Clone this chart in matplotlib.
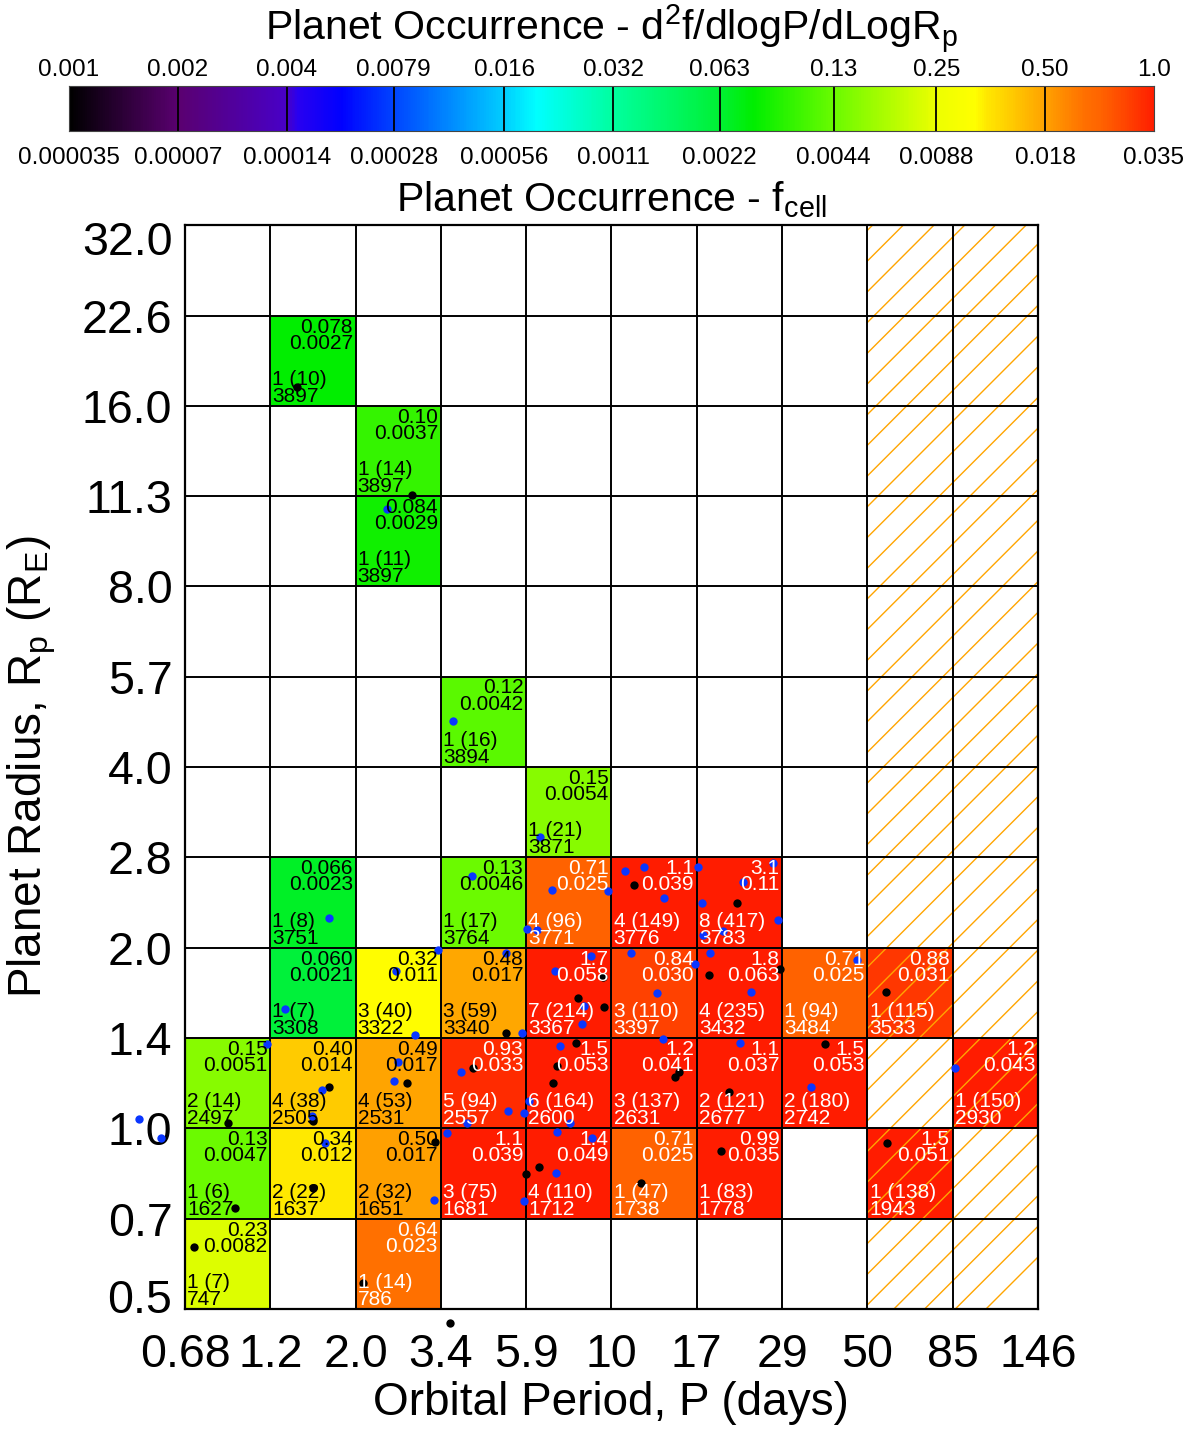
import numpy as np
import matplotlib
matplotlib.use('Agg')
import matplotlib.pyplot as plt
from matplotlib.colors import LinearSegmentedColormap, LogNorm
from matplotlib.patches import Rectangle

plt.rcParams['font.family'] = ['Liberation Sans', 'DejaVu Sans']
plt.rcParams['mathtext.fontset'] = 'custom'
plt.rcParams['mathtext.rm'] = 'Liberation Sans'
plt.rcParams['mathtext.it'] = 'Liberation Sans'
plt.rcParams['mathtext.default'] = 'regular'

# ---------------- data ----------------
period_edges = [0.68, 1.163, 1.99, 3.40, 5.82, 9.96, 17.04, 29.2, 49.9, 85.3, 146.0]
period_labels = ["0.68", "1.2", "2.0", "3.4", "5.9", "10", "17", "29", "50", "85", "146"]
radius_edges = [0.5, 0.707, 1.0, 1.414, 2.0, 2.83, 4.0, 5.66, 8.0, 11.3, 16.0, 22.6, 32.0]
radius_labels = ["0.5", "0.7", "1.0", "1.4", "2.0", "2.8", "4.0", "5.7", "8.0", "11.3", "16.0", "22.6", "32.0"]

cell_row = [10, 9, 8, 6, 5,
            4, 4, 4, 4, 4,
            3, 3, 3, 3, 3, 3, 3, 3,
            2, 2, 2, 2, 2, 2, 2, 2, 2,
            1, 1, 1, 1, 1, 1, 1, 1,
            0, 0]
cell_col = [1, 2, 2, 3, 4,
            1, 3, 4, 5, 6,
            1, 2, 3, 4, 5, 6, 7, 8,
            0, 1, 2, 3, 4, 5, 6, 7, 9,
            0, 1, 2, 3, 4, 5, 6, 8,
            0, 2]
cell_occ = ["0.078", "0.10", "0.084", "0.12", "0.15",
            "0.066", "0.13", "0.71", "1.1", "3.1",
            "0.060", "0.32", "0.48", "1.7", "0.84", "1.8", "0.71", "0.88",
            "0.15", "0.40", "0.49", "0.93", "1.5", "1.2", "1.1", "1.5", "1.2",
            "0.13", "0.34", "0.50", "1.1", "1.4", "0.71", "0.99", "1.5",
            "0.23", "0.64"]
cell_fcell = ["0.0027", "0.0037", "0.0029", "0.0042", "0.0054",
              "0.0023", "0.0046", "0.025", "0.039", "0.11",
              "0.0021", "0.011", "0.017", "0.058", "0.030", "0.063", "0.025", "0.031",
              "0.0051", "0.014", "0.017", "0.033", "0.053", "0.041", "0.037", "0.053", "0.043",
              "0.0047", "0.012", "0.017", "0.039", "0.049", "0.025", "0.035", "0.051",
              "0.0082", "0.023"]
cell_counts = ["1 (10)", "1 (14)", "1 (11)", "1 (16)", "1 (21)",
               "1 (8)", "1 (17)", "4 (96)", "4 (149)", "8 (417)",
               "1 (7)", "3 (40)", "3 (59)", "7 (214)", "3 (110)", "4 (235)", "1 (94)", "1 (115)",
               "2 (14)", "4 (38)", "4 (53)", "5 (94)", "6 (164)", "3 (137)", "2 (121)", "2 (180)", "1 (150)",
               "1 (6)", "2 (22)", "2 (32)", "3 (75)", "4 (110)", "1 (47)", "1 (83)", "1 (138)",
               "1 (7)", "1 (14)"]
cell_stars = [3897, 3897, 3897, 3894, 3871,
              3751, 3764, 3771, 3776, 3783,
              3308, 3322, 3340, 3367, 3397, 3432, 3484, 3533,
              2497, 2505, 2531, 2557, 2600, 2631, 2677, 2742, 2930,
              1627, 1637, 1651, 1681, 1712, 1738, 1778, 1943,
              747, 786]

black_period = [9.43, 8.07, 9.50, 5.12, 7.96, 11.5, 21.9, 18.4, 28.8, 56.1, 38.3, 2.75, 1.68,
                0.89, 1.52, 4.16, 7.07, 6.89, 3.28, 6.31, 5.81, 1.52, 0.93, 14.85, 15.2, 20.9,
                19.9, 56.4, 12.0, 0.72, 2.09, 3.60, 1.38, 2.84]
black_radius = [1.79, 1.65, 1.59, 1.44, 1.39, 2.54, 2.37, 1.80, 1.84, 1.69, 1.38, 1.19, 1.17,
                1.02, 1.03, 1.26, 1.27, 1.19, 0.949, 0.862, 0.839, 0.795, 0.737, 1.22, 1.24, 1.15,
                0.917, 0.945, 0.811, 0.634, 0.552, 0.474, 17.2, 11.35]

blue_period = [4.13, 6.84, 9.74, 1.68, 5.85, 6.23, 3.34, 5.12, 8.75, 2.57, 6.98, 1.28, 8.37,
               8.27, 2.89, 5.66, 1.14, 7.20, 10.85, 12.2, 13.9, 17.2, 27.5, 22.8, 17.6, 28.4,
               17.7, 20.1, 11.3, 18.5, 16.9, 46.8, 13.3, 24.0, 13.8, 22.4, 2.60, 2.53, 1.61,
               1.51, 3.86, 5.92, 5.19, 5.74, 4.00, 7.67, 3.53, 7.07, 8.81, 1.64, 7.02, 3.26,
               5.74, 35.0, 86.6, 2.43, 3.67, 6.35, 0.51, 0.585]
blue_radius = [2.63, 2.50, 2.49, 2.24, 2.15, 2.14, 1.98, 1.96, 1.94, 1.83, 1.83, 1.58, 1.60,
               1.49, 1.43, 1.44, 1.38, 1.37, 2.68, 2.73, 2.42, 2.73, 2.77, 2.57, 2.37, 2.22,
               2.10, 2.13, 1.96, 1.96, 1.88, 1.91, 1.68, 1.69, 1.41, 1.39, 1.29, 1.20, 1.16,
               1.05, 1.24, 1.11, 1.07, 1.06, 1.02, 1.02, 0.983, 0.986, 0.964, 0.945, 0.843, 0.759,
               0.756, 1.17, 1.26, 10.75, 4.77, 3.06, 1.036, 0.964]

cbar_top_ticks = [0.001, 0.002, 0.004, 0.0079, 0.016, 0.032, 0.063, 0.13, 0.25, 0.50, 1.0]
cbar_top_labels = ["0.001", "0.002", "0.004", "0.0079", "0.016", "0.032", "0.063", "0.13", "0.25", "0.50", "1.0"]
cbar_bot_labels = ["0.000035", "0.00007", "0.00014", "0.00028", "0.00056", "0.0011",
                   "0.0022", "0.0044", "0.0088", "0.018", "0.035"]

# ---------------- colormap ----------------
nodes = [(0.0, (0, 0, 0)), (0.1, (90, 0, 112)), (0.2, (72, 0, 200)), (0.21, (40, 0, 240)),
         (0.25, (0, 0, 255)), (0.3, (0, 70, 255)), (0.4, (0, 205, 255)), (0.43, (0, 255, 255)),
         (0.5, (0, 255, 160)), (0.6, (0, 240, 50)), (0.63, (0, 238, 0)), (0.7, (100, 250, 0)),
         (0.8, (238, 255, 0)), (0.835, (255, 255, 0)), (0.845, (255, 232, 0)),
         (0.867, (255, 204, 0)), (0.9, (255, 160, 0)), (0.935, (255, 112, 0)),
         (0.95, (255, 100, 0)), (0.975, (255, 66, 0)), (1.0, (255, 28, 0))]
cmap = LinearSegmentedColormap.from_list('occ', [(p, tuple(v / 255 for v in c)) for p, c in nodes], N=1024)
cmap.set_bad((1, 1, 1, 0))
norm = LogNorm(vmin=0.001, vmax=1.0)

# ---------------- figure ----------------
FW, FH = 1194, 1429
fig = plt.figure(figsize=(FW / 100, FH / 100), dpi=100)
ax = fig.add_axes([185 / FW, 1 - 1309 / FH, 853 / FW, 1084 / FH])
ax.set_xscale('log')
ax.set_yscale('log')

Z = np.full((len(radius_edges) - 1, len(period_edges) - 1), np.nan)
for r, c, v in zip(cell_row, cell_col, cell_occ):
    Z[r, c] = float(v)
ax.pcolormesh(period_edges, radius_edges, np.ma.masked_invalid(Z), cmap=cmap, norm=norm, zorder=1)

ax.set_xlim(period_edges[0], period_edges[-1])
ax.set_ylim(radius_edges[0], radius_edges[-1])

# hatching of the last two period columns
clip_rect = Rectangle((period_edges[8], radius_edges[0]), period_edges[10] - period_edges[8],
                      radius_edges[-1] - radius_edges[0], transform=ax.transData)
ratio = 1084 / 853
spacing = 30.7 / 853
start = (872.7 - 185) / 853 - ratio
for k in range(-5, 40):
    x0 = start + k * spacing
    ln, = ax.plot([x0, x0 + ratio], [0, 1], transform=ax.transAxes, color='#ffa500', lw=1.0, zorder=3)
    ln.set_clip_path(clip_rect)

# grid
ax.vlines(period_edges, radius_edges[0], radius_edges[-1], colors='k', lw=1.4, zorder=4)
ax.hlines(radius_edges, period_edges[0], period_edges[-1], colors='k', lw=1.4, zorder=4)

# dots
ax.scatter(black_period, black_radius, s=36, color='black', linewidths=0, zorder=5, clip_on=False)
ax.scatter(blue_period, blue_radius, s=36, color='#0a36ff', linewidths=0, zorder=5, clip_on=False)

# cell texts
for r, c, occ, fc, cnt, st in zip(cell_row, cell_col, cell_occ, cell_fcell, cell_counts, cell_stars):
    x0, x1 = period_edges[c], period_edges[c + 1]
    y0, y1 = radius_edges[r], radius_edges[r + 1]
    col = 'white' if float(occ) >= 0.6 else 'black'
    kw = dict(xycoords='data', textcoords='offset points', fontsize=15, color=col,
              va='baseline', zorder=6, annotation_clip=False)
    ax.annotate(occ, (x1, y1), xytext=(-2, -12.2), ha='right', **kw)
    ax.annotate(fc, (x1, y1), xytext=(-2, -23.8), ha='right', **kw)
    ax.annotate(cnt, (x0, y0), xytext=(1.5, 15.1), ha='left', **kw)
    ax.annotate(str(st), (x0, y0), xytext=(1.5, 2.9), ha='left', **kw)

TICK_FS = 33.5
ax.set_xticks(period_edges)
ax.set_xticklabels(period_labels)
ax.set_yticks(radius_edges)
# end labels are drawn separately, nudged inward like the reference
ax.set_yticklabels([''] + radius_labels[1:-1] + [''])
ax.minorticks_off()
ax.tick_params(axis='both', length=0, labelsize=TICK_FS)
ax.tick_params(axis='x', pad=17)
ax.tick_params(axis='y', pad=9)
ytr = ax.get_yaxis_transform()
ax.annotate(radius_labels[0], (0, radius_edges[0]), xycoords=ytr, textcoords='offset points',
            xytext=(-9, 9.5), ha='right', va='center_baseline', fontsize=TICK_FS, annotation_clip=False)
ax.annotate(radius_labels[-1], (0, radius_edges[-1]), xycoords=ytr, textcoords='offset points',
            xytext=(-9, -9.5), ha='right', va='center_baseline', fontsize=TICK_FS, annotation_clip=False)
for sp in ax.spines.values():
    sp.set_linewidth(1.6)
    sp.set_zorder(7)

fig.text(611 / FW, 1 - 1403 / FH, 'Orbital Period, P (days)', ha='center', va='center', fontsize=33)
fig.text(32 / FW, 1 - 767 / FH, r'Planet Radius, R$_\mathrm{p}$ (R$_\mathrm{E}$)', ha='center',
         va='center', rotation=90, fontsize=33)

# ---------------- colorbar ----------------
cax = fig.add_axes([69 / FW, 1 - 131 / FH, 1085 / FW, 45 / FH])
cax.set_xscale('log')
grad = np.logspace(-3, 0, 600)
cax.pcolormesh(grad, [0, 1], grad[None, :-1], cmap=cmap, norm=norm)
cax.set_xlim(0.001, 1.0)
cax.set_ylim(0, 1)
cax.vlines(cbar_top_ticks[1:-1], 0, 1, colors='k', lw=1.3)
cax.set_xticks([])
cax.set_yticks([])
cax.minorticks_off()
for sp in cax.spines.values():
    sp.set_linewidth(0.8)
    sp.set_color('#444444')
trans = cax.get_xaxis_transform()
for t, lt, lb in zip(cbar_top_ticks, cbar_top_labels, cbar_bot_labels):
    cax.annotate(lt, (t, 1), xycoords=trans, textcoords='offset points', xytext=(0, 7.5),
                 ha='center', va='baseline', fontsize=17.5, annotation_clip=False)
    cax.annotate(lb, (t, 0), xycoords=trans, textcoords='offset points', xytext=(0, -23.5),
                 ha='center', va='baseline', fontsize=17.5, annotation_clip=False)

fig.text(612 / FW, 1 - 40 / FH, r'Planet Occurrence - d$^2$f/dlogP/dLogR$_\mathrm{p}$',
         ha='center', va='baseline', fontsize=29.5)
fig.text(611 / FW, 1 - 211 / FH, r'Planet Occurrence - f$_\mathrm{cell}$',
         ha='center', va='baseline', fontsize=29.5)

fig.savefig('out.png', dpi=100)
